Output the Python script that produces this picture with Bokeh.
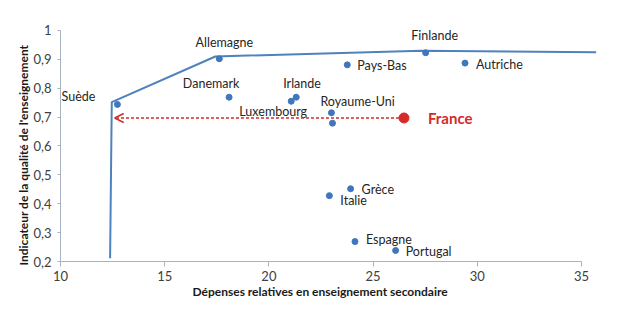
from bokeh.plotting import figure
from bokeh.models import ColumnDataSource, Range1d, FixedTicker, Arrow, OpenHead, Title
from bokeh.embed import file_html
from bokeh.resources import INLINE
from bokeh.core.properties import value

# ---- data ----
countries = ["Suède", "Allemagne", "Danemark", "Luxembourg", "Irlande", "Royaume-Uni", "",
             "Pays-Bas", "Finlande", "Autriche", "Grèce", "Italie", "Espagne", "Portugal"]
spend = [12.73, 17.62, 18.09, 21.07, 21.31, 23.00, 23.05, 23.76, 27.52, 29.41, 23.92, 22.90, 24.13, 26.08]
quality = [0.744, 0.902, 0.769, 0.755, 0.769, 0.715, 0.679, 0.881, 0.923, 0.887, 0.452, 0.428, 0.269, 0.238]

france_name = "France"
france_spend = 26.48
france_quality = 0.697
france_target_spend = 12.6

frontier_x = [12.38, 12.46, 17.43, 27.30, 35.70]
frontier_y = [0.211, 0.752, 0.910, 0.930, 0.925]

x_ticks = [10, 15, 20, 25, 30, 35]
y_ticks = [0.2, 0.3, 0.4, 0.5, 0.6, 0.7, 0.8, 0.9, 1.0]
y_tick_labels = ["0,2", "0,3", "0,4", "0,5", "0,6", "0,7", "0,8", "0,9", "1"]

x_title = "Dépenses relatives en enseignement secondaire"
y_title = "Indicateur de la qualité de l'enseignement"

# label placement (pixels) and alignment per country
lab_dx = [-22, 5, -18, -18, -13, -11, 0, 10, 9, 11, 11, 11, 11, 10]
lab_dy = [-8, -16, -14, 10, -14, -11, 0, 1, -17, 1, 1, 5, -2, 1]
lab_align = ["right", "center", "center", "center", "left", "left", "left",
             "left", "center", "left", "left", "left", "left", "left"]

FONT = "Lato"
BLUE = "#3f76bd"
RED = "#d42a2a"
AXIS = "#a8b4c2"

p = figure(width=642, height=322, output_backend="svg", toolbar_location=None,
           x_range=Range1d(10, 35.91), y_range=Range1d(0.2, 1.0346),
           min_border_left=60, min_border_right=42, min_border_top=20, min_border_bottom=61)
p.outline_line_color = None
p.xgrid.visible = False
p.ygrid.visible = False
p.background_fill_color = "white"
p.border_fill_color = "white"

# frontier
p.line(frontier_x, frontier_y, line_color="#4f81bd", line_width=2)

src = ColumnDataSource(dict(x=spend, y=quality, name=countries, dx=lab_dx, dy=lab_dy, align=lab_align))
p.scatter("x", "y", source=src, size=6, fill_color=BLUE, line_color=BLUE)

p.text("x", "y", text="name", source=src, x_offset="dx", y_offset="dy", text_align="align",
       text_baseline="middle", text_font=value(FONT), text_font_size="12.5px", text_color="#262626")

# France arrow
p.add_layout(Arrow(end=OpenHead(size=9, line_color=RED, line_width=1.5),
                   x_start=france_spend, y_start=france_quality,
                   x_end=france_target_spend, y_end=france_quality,
                   line_color=RED, line_width=1.5, line_dash="3 2"))
p.scatter([france_spend], [france_quality], size=10, fill_color=RED, line_color=RED)
p.text([france_spend], [france_quality], text=[france_name], x_offset=24, y_offset=0,
       text_baseline="middle", text_font=value(FONT), text_font_size="15px",
       text_font_style="bold", text_color=RED)

# axes
p.xaxis.ticker = FixedTicker(ticks=x_ticks)
p.yaxis.ticker = FixedTicker(ticks=y_ticks)
p.yaxis.major_label_overrides = {t: l for t, l in zip(y_ticks, y_tick_labels)}
p.xaxis.bounds = (x_ticks[0], x_ticks[-1])
p.yaxis.bounds = (y_ticks[0], y_ticks[-1])
for ax in (p.xaxis[0], p.yaxis[0]):
    ax.axis_line_color = AXIS
    ax.major_tick_line_color = AXIS
    ax.minor_tick_line_color = None
    ax.major_tick_in = 0
    ax.major_label_text_font = FONT
    ax.major_label_text_font_size = "13px"
    ax.major_label_text_color = "#404040"
p.xaxis.major_tick_out = 5
p.yaxis.major_tick_out = 3
p.xaxis.major_label_standoff = 4
p.yaxis.major_label_standoff = 6

# axis titles, placed as titles so they can sit centred on the axis bounds
p.add_layout(Title(text=x_title, align="left", offset=132, standoff=0, vertical_align="top",
                   text_font=FONT, text_font_size="12px", text_font_style="bold",
                   text_color="#1a1a1a"), "below")
p.add_layout(Title(text=y_title, align="left", offset=-4, standoff=0,
                   text_font=FONT, text_font_size="12px", text_font_style="bold",
                   text_color="#1a1a1a"), "left")

open("out.html", "w").write(file_html(p, INLINE))
